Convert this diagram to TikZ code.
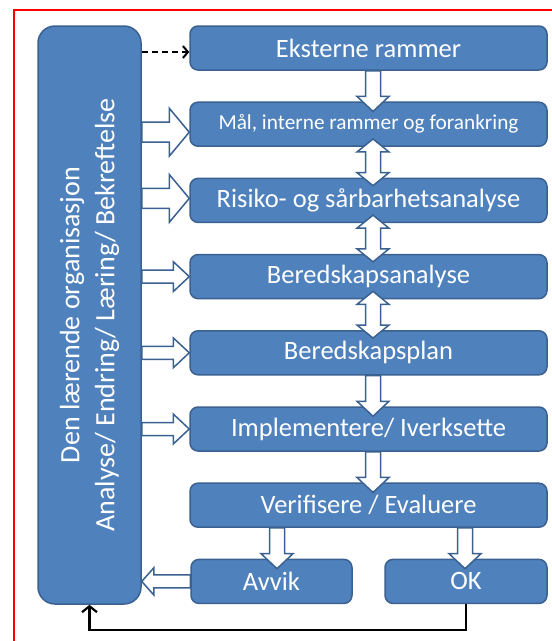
\documentclass[tikz,border=0pt]{standalone}
\usepackage{fontspec}
\setmainfont{Carlito}
\usetikzlibrary{calc,arrows.meta}

\definecolor{boxfill}{HTML}{4F81BD}
\definecolor{boxline}{HTML}{3A6190}

% block arrows, in picture units (1pt, y downwards)
\newcommand{\downblk}[3][0]{%
	\draw[blk] ($(#3.north |- #2.south)+(#1-7.5,0)$) -- ($(#3.north)+(#1-7.5,-5)$) -- ($(#3.north)+(#1-16,-5)$)
	-- ($(#3.north)+(#1,10)$) -- ($(#3.north)+(#1+16,-5)$) -- ($(#3.north)+(#1+7.5,-5)$)
	-- ($(#3.north |- #2.south)+(#1+7.5,0)$) -- cycle;}
\newcommand{\bothblk}[3][0]{%
	\draw[blk] ($(#2.south)+(#1,-8)$) -- ($(#2.south)+(#1+16,5)$) -- ($(#2.south)+(#1+7.5,5)$)
	-- ($(#3.north)+(#1+7.5,-5)$) -- ($(#3.north)+(#1+16,-5)$) -- ($(#3.north)+(#1,8)$)
	-- ($(#3.north)+(#1-16,-5)$) -- ($(#3.north)+(#1-7.5,-5)$) -- ($(#2.south)+(#1-7.5,5)$)
	-- ($(#2.south)+(#1-16,5)$) -- cycle;}
% #1 y shift, #2 shaft half, #3 head half, #4 head length, #5 from (rotated node, right side = south), #6 to
\newcommand{\rightblk}[6]{%
	\draw[blk] ($(#5.south |- #6.west)+(0,#1-#2)$) -- ($(#6.west)+(-#4,#1-#2)$) -- ($(#6.west)+(-#4,#1-#3)$)
	-- ($(#6.west)+(0,#1)$) -- ($(#6.west)+(-#4,#1+#3)$) -- ($(#6.west)+(-#4,#1+#2)$)
	-- ($(#5.south |- #6.west)+(0,#1+#2)$) -- cycle;}

\begin{document}
\begin{tikzpicture}[x=1pt,y=-1pt,
	box/.style={draw=boxline,line width=1.5pt,fill=boxfill,rounded corners=8pt,text=white,
		font=\fontsize{26.5}{30}\selectfont,minimum height=44pt,minimum width=357pt,inner sep=2pt},
	blk/.style={draw=boxline,line width=1.5pt,fill=white,line join=miter}]
	\useasboundingbox (0,0) rectangle (552,641);

	% red frame
	\draw [red,line width=2pt] (552,10) -- (14,10) -- (14,641);

	% rotated: south is its right side, west its bottom
	\node [box,rounded corners=17pt,rotate=90,minimum width=578pt,minimum height=103pt,align=center,
		font=\fontsize{28}{35}\selectfont] (ORG) at (89.5,315)
		{Den lærende organisasjon\\Analyse/ Endring/ Læring/ Bekreftelse};

	\node [box] (EXT) at (368.5,48) {Eksterne rammer};
	\node [box,font=\fontsize{21.3}{25}\selectfont] (MAL) at (368.5,124.2) {Mål, interne rammer og forankring};
	\node [box] (RISK) at (368.5,200.4) {Risiko- og sårbarhetsanalyse};
	\node [box] (BRA) at (368.5,276.6) {Beredskapsanalyse};
	\node [box] (BRP) at (368.5,352.8) {Beredskapsplan};
	\node [box] (IMPL) at (368.5,429) {Implementere/ Iverksette};
	\node [box] (VER) at (368.5,505.2) {Verifisere / Evaluere};
	\node [box,minimum width=161pt] (AVVIK) at (271.5,581.4) {Avvik};
	\node [box,minimum width=162pt] (OK) at (466,581.4) {OK};

	% down the column
	\downblk[4.5]{EXT}{MAL}
	\bothblk[4.5]{MAL}{RISK}
	\bothblk[4.5]{RISK}{BRA}
	\bothblk[4.5]{BRA}{BRP}
	\downblk[4.5]{BRP}{IMPL}
	\downblk[4.5]{IMPL}{VER}
	\downblk[5.5]{VER}{AVVIK}
	\downblk[-1]{VER}{OK}

	% from the organisation
	\rightblk{8}{10}{24}{20}{ORG}{MAL}
	\rightblk{-2}{10}{24}{20}{ORG}{RISK}
	\rightblk{0}{6.5}{15}{16}{ORG}{BRA}
	\rightblk{0}{6.5}{15}{16}{ORG}{BRP}
	\rightblk{0}{6.5}{15}{16}{ORG}{IMPL}

	% back from Avvik
	\draw[blk] ($(AVVIK.west)+(0,-6.5)$) -- ($(ORG.south |- AVVIK.west)+(12,-6.5)$) -- ($(ORG.south |- AVVIK.west)+(12,-13.5)$)
		-- (ORG.south |- AVVIK.west) -- ($(ORG.south |- AVVIK.west)+(12,13.5)$) -- ($(ORG.south |- AVVIK.west)+(12,6.5)$)
		-- ($(AVVIK.west)+(0,6.5)$) -- cycle;

	\draw [black,line width=2pt,dash pattern=on 6pt off 4pt,-{Straight Barb[length=5pt,width=12pt]}]
		($(ORG.south |- EXT.west)+(0,4)$) -- ($(EXT.west)+(0,4)$);
	\draw [black,line width=2.2pt,-{Straight Barb[length=6pt,width=15pt]}]
		(OK.south) -- ++(0,26) -| (ORG.west);
\end{tikzpicture}
\end{document}
